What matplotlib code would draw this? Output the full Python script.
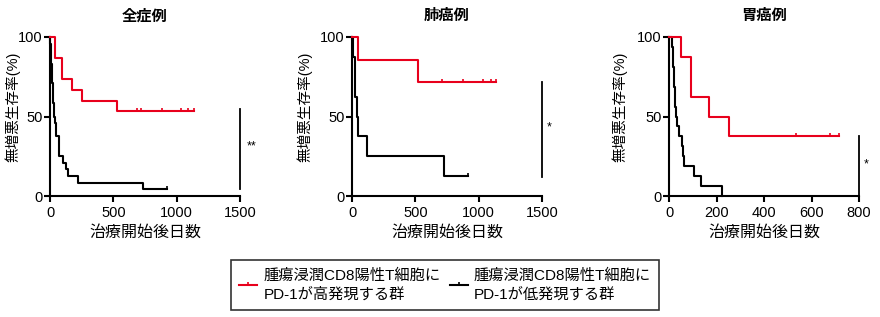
import matplotlib.pyplot as plt
from matplotlib.lines import Line2D

plt.rcParams['font.family'] = ['Liberation Sans', 'Noto Sans CJK JP']

# step data: time of each step (days) and survival (%) after it
all_red_t = [0, 40, 92, 171, 255, 526, 1139]
all_red_s = [100, 86.7, 73.3, 66.7, 60, 53.3, 53.3]
all_red_cens = [684, 716, 882, 1034, 1092, 1139]

all_blk_t = [0, 3, 5, 8, 10, 13, 15, 18, 20, 23, 26, 29, 34, 40, 45, 50, 71, 72, 73,
             105, 124, 140, 224, 737, 921]
all_blk_s = [100, 95.8, 91.7, 87.5, 83.3, 79.2, 75, 70.8, 66.7, 62.5, 58.3, 54.2, 50,
             45.8, 41.7, 37.5, 33.3, 29.2, 25, 20.8, 16.7, 12.5, 8.3, 4.2, 4.2]
all_blk_cens = [921]

lung_red_t = [0, 45, 523, 1137]
lung_red_s = [100, 85.7, 71.4, 71.4]
lung_red_cens = [713, 874, 1032, 1097, 1137]

lung_blk_t = [0, 10, 20, 22, 37, 45, 116, 729, 918]
lung_blk_s = [100, 87.5, 75, 62.5, 50, 37.5, 25, 12.5, 12.5]
lung_blk_cens = [918]

gas_red_t = [0, 49, 93, 168, 253, 715]
gas_red_s = [100, 87.5, 62.5, 50, 37.5, 37.5]
gas_red_cens = [535, 678, 715]

gas_blk_t = [0, 12, 15, 18, 20, 22, 24, 27, 30, 34, 42, 55, 57, 63, 107, 133, 225]
gas_blk_s = [100, 93.75, 87.5, 81.25, 75, 68.75, 62.5, 56.25, 50, 43.75, 37.5, 31.25,
             25, 18.75, 12.5, 6.25, 0]
gas_blk_cens = []

titles = ['全症例', '肺癌例', '胃癌例']
xmax = [1500, 1500, 800]
xticks = [[0, 500, 1000, 1500], [0, 500, 1000, 1500], [0, 200, 400, 600, 800]]
# significance bar: (x, y_low, y_high, label, label_x, label_y)
sig = [(1500, 4.2, 54.7, '**', 1592, 31),
       (1500, 12.1, 71.9, '*', 1558, 43),
       (800, 0, 37.7, '*', 832, 20)]

panels = [
    (all_red_t, all_red_s, all_red_cens, all_blk_t, all_blk_s, all_blk_cens),
    (lung_red_t, lung_red_s, lung_red_cens, lung_blk_t, lung_blk_s, lung_blk_cens),
    (gas_red_t, gas_red_s, gas_red_cens, gas_blk_t, gas_blk_s, gas_blk_cens),
]

tick_up = [(0, 0), (0, 1)]
red = '#e8001c'

fig = plt.figure(figsize=(8.8, 3.17), dpi=100)
lefts = [50, 352, 669]
ylab_x = [20, 312, 627]  # right edge of the rotated y label, px
for i, (rt, rs, rc, bt, bs, bc) in enumerate(panels):
    ax = fig.add_axes([lefts[i] / 880, 1 - 196 / 317, 190 / 880, 159 / 317])
    ax.step(bt, bs, where='post', color='black', lw=1.5, clip_on=False, zorder=3)
    ax.step(rt, rs, where='post', color=red, lw=1.5, clip_on=False, zorder=4)
    if rc:
        ax.plot(rc, [rs[-1]] * len(rc), ls='none', marker=tick_up, ms=5,
                mew=1.2, color=red, clip_on=False, zorder=4)
    if bc:
        ax.plot(bc, [bs[-1]] * len(bc), ls='none', marker=tick_up, ms=5,
                mew=1.2, color='black', clip_on=False, zorder=3)
    x, y0, y1, lab, lx, ly = sig[i]
    ax.plot([x, x], [y0, y1], color='black', lw=1.3, clip_on=False)
    ax.text(lx, ly, lab, fontsize=9, ha='center', va='center', clip_on=False)

    ax.set_xlim(0, xmax[i])
    ax.set_ylim(0, 100)
    ax.set_xticks(xticks[i])
    ax.set_yticks([0, 50, 100])
    for s in ['top', 'right']:
        ax.spines[s].set_visible(False)
    for s in ['left', 'bottom']:
        ax.spines[s].set_linewidth(1.5)
    ax.tick_params(direction='out', length=4.5, width=1.5, labelsize=10.5)
    ax.tick_params(axis='x', pad=3)
    ax.tick_params(axis='y', pad=1)
    ax.set_title(titles[i], fontsize=11, pad=12, fontweight='bold')
    ax.set_xlabel('治療開始後日数', fontsize=11.5, labelpad=3)
    ax.set_ylabel('無増悪生存率(%)', fontsize=10.5)
    ax.yaxis.set_label_coords((ylab_x[i] - lefts[i]) / 190, 0.56)

handles = [Line2D([], [], color=red, lw=1.5, marker=tick_up, ms=5, mew=1.2),
           Line2D([], [], color='black', lw=1.5, marker=tick_up, ms=5, mew=1.2)]
labels = ['腫瘍浸潤CD8陽性T細胞に\nPD-1が高発現する群',
          '腫瘍浸潤CD8陽性T細胞に\nPD-1が低発現する群']
leg = fig.legend(handles, labels, ncol=2, loc='center', bbox_to_anchor=(445 / 880, 1 - 285 / 317),
                 fontsize=11, frameon=True, fancybox=False, handlelength=1.2,
                 handletextpad=0.4, columnspacing=0.6, borderpad=0.5, borderaxespad=0,
                 numpoints=1)
for t in leg.get_texts():
    t.set_linespacing(1.45)
leg.get_frame().set_edgecolor('black')
leg.get_frame().set_linewidth(1.2)

fig.savefig('out.png', dpi=100)
